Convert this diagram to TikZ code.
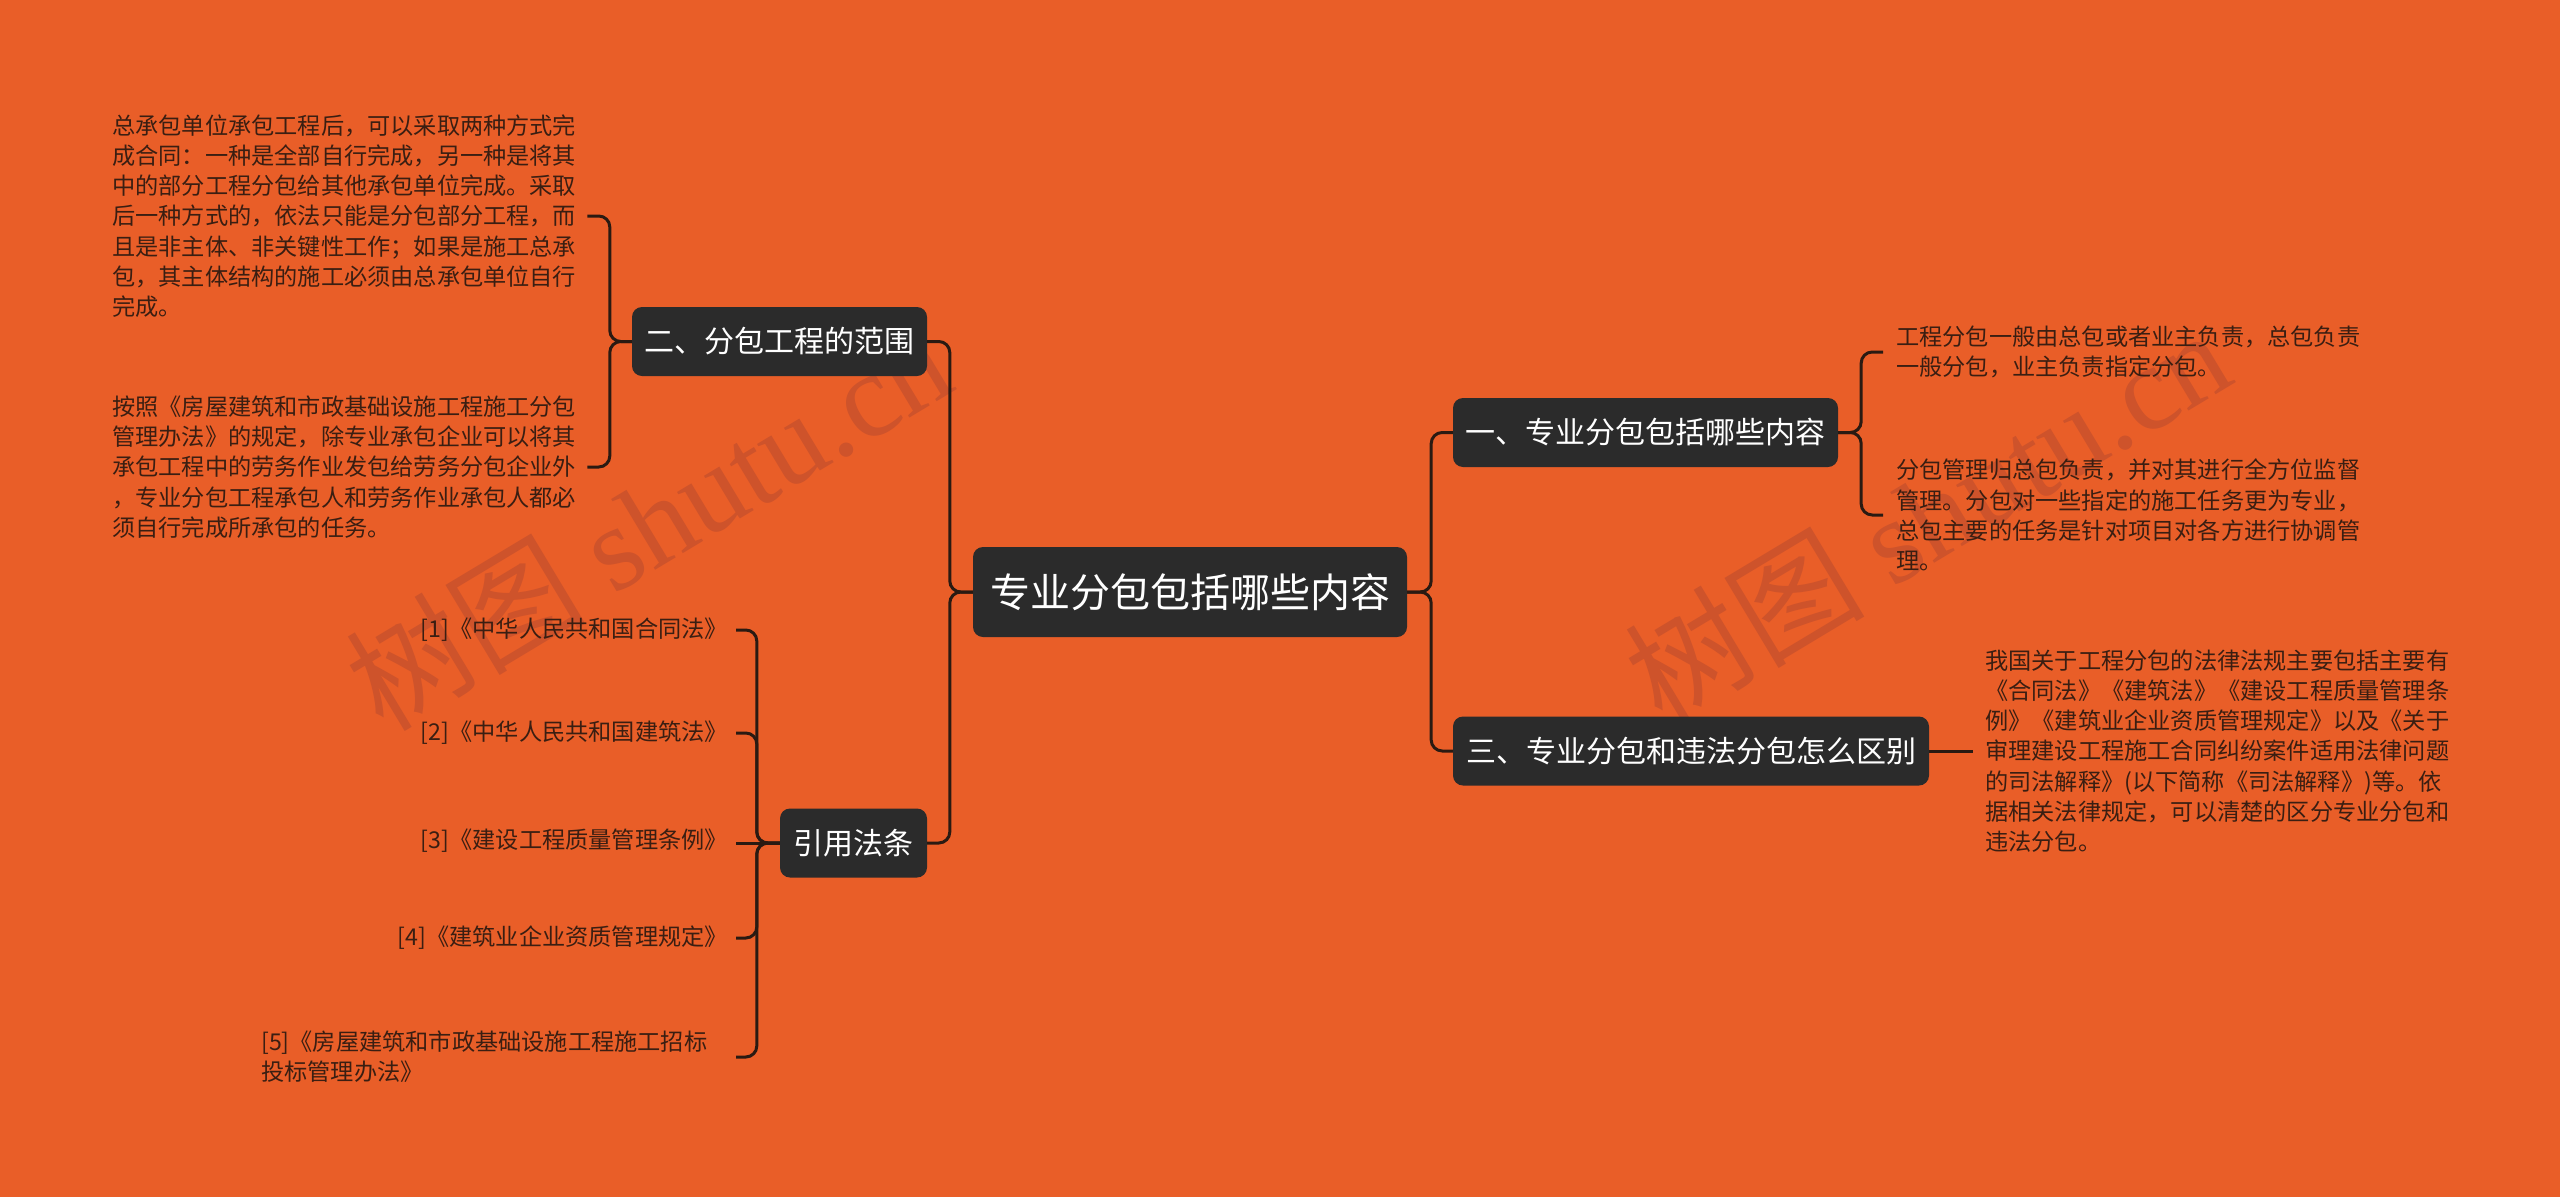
\documentclass[tikz,border=0pt]{standalone}
\usepackage{fontspec}
\newfontfamily\cjk{Noto Sans CJK SC}
\newfontfamily\wmserif{Liberation Serif}
\definecolor{bgorange}{RGB}{233,94,40}
\definecolor{nodefill}{RGB}{43,43,43}
\definecolor{leaftext}{RGB}{58,30,18}
\definecolor{linkc}{RGB}{42,26,18}
\definecolor{wmc}{RGB}{206,83,43}
\begin{document}
\begin{tikzpicture}[x=1pt,y=-1pt,
  topic/.style={fill=nodefill, rounded corners=10pt, text=white, inner sep=0pt,
    font=\cjk\fontsize{30}{36}\selectfont, minimum height=69pt, align=center},
  central/.style={topic, font=\cjk\fontsize{40}{48}\selectfont, minimum height=90pt},
  leaf/.style={inner sep=0pt, text=leaftext, font=\cjk\fontsize{23.2}{30.2}\selectfont},
  link/.style={draw=linkc, line width=3pt, rounded corners=11pt},
  wmark/.style={inner sep=0pt, text=wmc, rotate=31, font=\fontsize{120}{122}\selectfont}]
\fill[bgorange] (0,0) rectangle (2560,1197);
\useasboundingbox (0,0) rectangle (2560,1197);
% watermarks
\node[wmark] (wm1) at (648,522) {{\cjk 树图}\hspace{28pt}{\wmserif shutu.cn}};
\node[wmark] (wm2) at (1927,515) {{\cjk 树图}\hspace{28pt}{\wmserif shutu.cn}};
% main nodes
\node[central, minimum width=434pt] (C) at (1190,592) {专业分包包括哪些内容};
\node[topic, minimum width=295pt] (L1) at (779.5,341.5) {二、分包工程的范围};
\node[topic, minimum width=147pt] (L2) at (853.5,843) {引用法条};
\node[topic, minimum width=385pt] (R1) at (1645.5,432.5) {一、专业分包包括哪些内容};
\node[topic, minimum width=476pt] (R2) at (1691,751) {三、专业分包和违法分包怎么区别};
% leaves of L1
\node[leaf, anchor=west, align=left] (a1) at (112,216) {总承包单位承包工程后，可以采取两种方式完\\成合同：一种是全部自行完成，另一种是将其\\中的部分工程分包给其他承包单位完成。采取\\后一种方式的，依法只能是分包部分工程，而\\且是非主体、非关键性工作；如果是施工总承\\包，其主体结构的施工必须由总承包单位自行\\完成。};
\node[leaf, anchor=west, align=left] (a2) at (112,467) {按照《房屋建筑和市政基础设施工程施工分包\\管理办法》的规定，除专业承包企业可以将其\\承包工程中的劳务作业发包给劳务分包企业外\\，专业分包工程承包人和劳务作业承包人都必\\须自行完成所承包的任务。};
% leaves of R1
\node[leaf, anchor=west, align=left] (r1a) at (1896,352) {工程分包一般由总包或者业主负责，总包负责\\一般分包，业主负责指定分包。};
\node[leaf, anchor=west, align=left] (r1b) at (1896,515) {分包管理归总包负责，并对其进行全方位监督\\管理。分包对一些指定的施工任务更为专业，\\总包主要的任务是针对项目对各方进行协调管\\理。};
% leaf of R2
\node[leaf, anchor=west, align=left] (r2a) at (1985,751) {我国关于工程分包的法律法规主要包括主要有\\《合同法》《建筑法》《建设工程质量管理条\\例》《建筑业企业资质管理规定》以及《关于\\审理建设工程施工合同纠纷案件适用法律问题\\的司法解释》(以下简称《司法解释》)等。依\\据相关法律规定，可以清楚的区分专业分包和\\违法分包。};
% leaves of L2
\node[leaf, anchor=east] (b1) at (728,630) {[1]《中华人民共和国合同法》};
\node[leaf, anchor=east] (b2) at (728,733) {[2]《中华人民共和国建筑法》};
\node[leaf, anchor=east] (b3) at (728,841) {[3]《建设工程质量管理条例》};
\node[leaf, anchor=east] (b4) at (728,938) {[4]《建筑业企业资质管理规定》};
\node[leaf, anchor=west, align=left] (b5) at (261,1057) {[5]《房屋建筑和市政基础设施工程施工招标\\投标管理办法》};
\coordinate (bt) at ([xshift=8pt]b1.east);
% connectors: centre to main topics
\draw[link] (C.west) -- ++(-23,0) |- (L1.east);
\draw[link] (C.west) -- ++(-23,0) |- (L2.east);
\draw[link] (C.east) -- ++(24,0) |- (R1.west);
\draw[link] (C.east) -- ++(24,0) |- (R2.west);
% L1 leaves
\draw[link] (L1.west) -- ++(-22,0) |- ([xshift=11pt]a1.east);
\draw[link] (L1.west) -- ++(-22,0) |- ([xshift=11pt]a2.east);
% R1 leaves
\draw[link] (R1.east) -- ++(23,0) |- ([xshift=-13pt]r1a.west);
\draw[link] (R1.east) -- ++(23,0) |- ([xshift=-13pt]r1b.west);
% R2 leaf
\draw[link] (R2.east) -- ([xshift=-12pt]r2a.west);
% L2 leaves
\draw[link] (L2.west) -- ++(-23,0) |- (bt |- b1.east);
\draw[link] (L2.west) -- ++(-23,0) |- (bt |- b2.east);
\draw[link] (L2.west) -- (bt |- L2.west);
\draw[link] (L2.west) -- ++(-23,0) |- (bt |- b4.east);
\draw[link] (L2.west) -- ++(-23,0) |- (bt |- b5.east);
\end{tikzpicture}
\end{document}
